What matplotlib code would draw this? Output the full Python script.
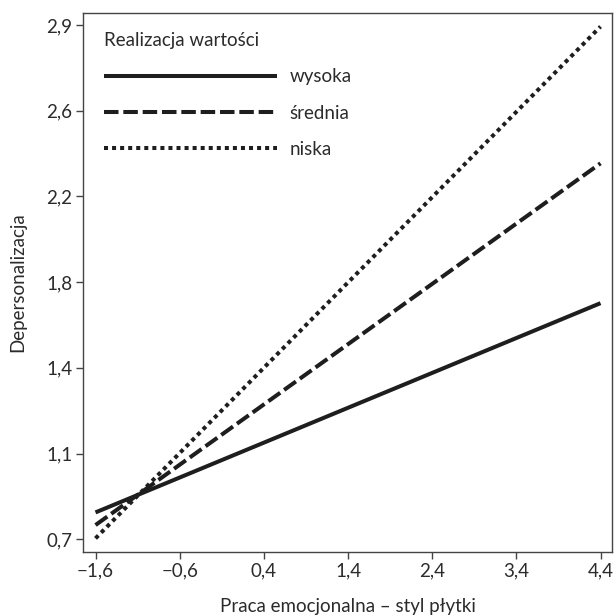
import matplotlib
matplotlib.use("Agg")
import matplotlib.pyplot as plt
import numpy as np

plt.rcParams['font.family'] = ['Lato', 'DejaVu Sans']

# Data
x_vals = [-1.6, 4.4]
series_names = ["wysoka", "średnia", "niska"]
y_wysoka = [0.815, 1.710]
y_srednia = [0.761, 2.308]
y_niska = [0.704, 2.893]
x_ticks = [-1.6, -0.6, 0.4, 1.4, 2.4, 3.4, 4.4]
x_ticklabels = ["\u22121,6", "\u22120,6", "0,4", "1,4", "2,4", "3,4", "4,4"]
y_ticklabels = ["0,7", "1,1", "1,4", "1,8", "2,2", "2,6", "2,9"]
legend_title = "Realizacja wartości"
xlabel = "Praca emocjonalna – styl płytki"
ylabel = "Depersonalizacja"

W, H, DPI = 615, 616, 100
fig = plt.figure(figsize=(W / DPI, H / DPI), dpi=DPI)
ax = fig.add_axes([83.3 / W, 1 - 551.7 / H, (612.3 - 83.3) / W, (551.7 - 13) / H])

lc = "#1e1e1e"
lw = 2.9
ax.plot(x_vals, y_wysoka, color=lc, lw=lw, solid_capstyle='butt', label=series_names[0])
ax.plot(x_vals, y_srednia, color=lc, lw=lw, linestyle=(0, (3.6, 1.2)), dash_capstyle='butt', label=series_names[1])
ax.plot(x_vals, y_niska, color=lc, lw=lw, linestyle=(0, (1, 1)), dash_capstyle='butt', label=series_names[2])

ax.set_xlim(-1.745, 4.54)
ax.set_ylim(0.647, 2.951)
ax.set_xticks(x_ticks)
ax.set_xticklabels(x_ticklabels)
ax.set_yticks(np.linspace(0.7, 2.9, len(y_ticklabels)))
ax.set_yticklabels(y_ticklabels)

fs = 13.5
tc = "#2b2b2b"
for s in ax.spines.values():
    s.set_color("#444444")
    s.set_linewidth(1.0)
ax.tick_params(direction='out', length=5, width=1, color="#444444", labelsize=fs, labelcolor=tc, pad=3)
ax.set_xlabel(xlabel, fontsize=fs, color=tc, labelpad=13)
ax.set_ylabel(ylabel, fontsize=fs, color=tc, labelpad=14)

leg = ax.legend(title=legend_title, loc='upper left', bbox_to_anchor=((104 - 83.3) / 529, 1 - (32 - 13) / 538.7),
                frameon=False, fontsize=fs, title_fontsize=fs, handlelength=9.2, handletextpad=0.7,
                labelspacing=1.03, borderaxespad=0, borderpad=0, alignment='left')
for t in leg.get_texts():
    t.set_color(tc)
leg.get_title().set_color(tc)

fig.savefig("out.png", dpi=DPI)
